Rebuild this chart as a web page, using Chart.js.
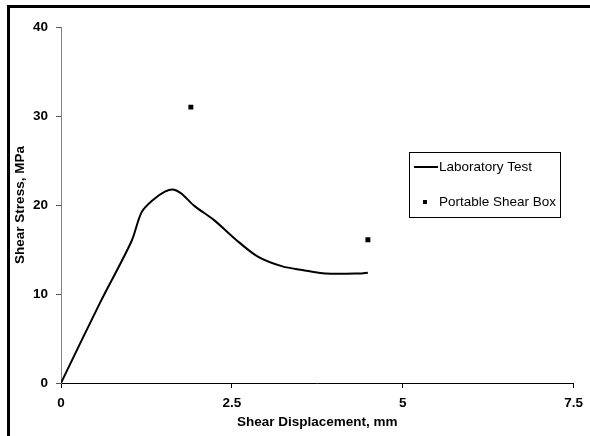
<!DOCTYPE html>
<html>
<head>
<meta charset="utf-8">
<script src="https://cdn.jsdelivr.net/npm/chart.js@4/dist/chart.umd.min.js"></script>
<style>
    body { margin: 0; background: #fff; }
    #wrap { position: relative; width: 590px; height: 436px; }
    #frame {
        position: absolute; left: 7px; top: 5px; right: 0; bottom: 0;
        border-left: 3px solid #000; border-top: 3px solid #000;
        pointer-events: none;
    }
</style>
</head>
<body>
<div id="wrap">
    <canvas id="chart" width="590" height="436"></canvas>
    <div id="frame"></div>
</div>
<script>
// Laboratory test curve (shear displacement mm, shear stress MPa)
const labDisp   = [0, 0.57, 1.03, 1.18, 1.35, 1.52, 1.64, 1.76, 1.95, 2.24, 2.56, 2.88, 3.24, 3.53, 3.87, 4.36, 4.49];
const labStress = [0, 9.0, 15.9, 19.2, 20.6, 21.5, 21.75, 21.3, 19.9, 18.3, 16.1, 14.2, 13.1, 12.7, 12.3, 12.3, 12.4];

// Portable shear box readings
const boxDisp   = [1.90, 4.49];
const boxStress = [31.0, 16.1];

const xTicks = [0, 2.5, 5, 7.5];
const yTicks = [0, 10, 20, 30, 40];

const FONT = '"Liberation Sans", Arial, sans-serif';

const toPoints = (xs, ys) => xs.map((x, i) => ({ x: x, y: ys[i] }));

// Boxed legend inside the plot, like the original spreadsheet chart
const boxLegend = {
    id: 'boxLegend',
    afterDraw(chart) {
        const ctx = chart.ctx;
        const sets = chart.data.datasets;
        const left = 409.5, top = 152.5, w = 151, h = 65;
        ctx.save();
        ctx.strokeStyle = '#000';
        ctx.lineWidth = 1;
        ctx.strokeRect(left, top, w, h);

        ctx.font = '13.5px ' + FONT;
        ctx.fillStyle = '#000';
        ctx.textBaseline = 'middle';

        // line sample
        ctx.lineWidth = 2;
        ctx.beginPath();
        ctx.moveTo(414, 167);
        ctx.lineTo(438, 167);
        ctx.stroke();
        ctx.fillText(sets[0].label, 439, 167);

        // square sample
        ctx.fillRect(423, 200, 4, 4);
        ctx.fillText(sets[1].label, 439, 202);
        ctx.restore();
    }
};

new Chart(document.getElementById('chart').getContext('2d'), {
    type: 'scatter',
    data: {
        datasets: [{
            label: 'Laboratory Test',
            data: toPoints(labDisp, labStress),
            showLine: true,
            borderColor: '#000',
            borderWidth: 2,
            pointRadius: 0,
            tension: 0.3,
            fill: false
        }, {
            label: 'Portable Shear Box',
            data: toPoints(boxDisp, boxStress),
            showLine: false,
            pointStyle: 'rect',
            pointRadius: 3.5,
            backgroundColor: '#000',
            borderColor: '#000',
            borderWidth: 0
        }]
    },
    options: {
        responsive: false,
        animation: false,
        devicePixelRatio: 1,
        layout: { padding: { left: 0, top: 27, right: 15, bottom: 0 } },
        plugins: {
            legend: { display: false },
            tooltip: { enabled: false }
        },
        scales: {
            x: {
                type: 'linear',
                min: 0,
                max: 7.5,
                afterBuildTicks: (scale) => { scale.ticks = xTicks.map(v => ({ value: v })); },
                afterFit: (scale) => { scale.height = 53; },
                border: { color: '#000', width: 1 },
                grid: { drawOnChartArea: false, drawTicks: true, tickLength: 5, color: '#000' },
                ticks: {
                    color: '#000',
                    padding: 7,
                    maxRotation: 0,
                    font: { family: FONT, size: 13.5, weight: 'bold' },
                    callback: (v) => String(v)
                },
                title: {
                    display: true,
                    text: 'Shear Displacement, mm',
                    color: '#000',
                    padding: { top: 0, bottom: 6 },
                    font: { family: FONT, size: 13.5, weight: 'bold' }
                }
            },
            y: {
                type: 'linear',
                min: 0,
                max: 40,
                afterBuildTicks: (scale) => { scale.ticks = yTicks.map(v => ({ value: v })); },
                afterFit: (scale) => { scale.width = 61; },
                border: { color: '#808080', width: 1 },
                grid: { drawOnChartArea: false, drawTicks: true, tickLength: 5, color: '#555' },
                ticks: {
                    color: '#000',
                    padding: 8,
                    font: { family: FONT, size: 13.5, weight: 'bold' }
                },
                title: {
                    display: true,
                    text: 'Shear Stress, MPa',
                    color: '#000',
                    padding: { top: 12, bottom: 0 },
                    font: { family: FONT, size: 13.5, weight: 'bold' }
                }
            }
        }
    },
    plugins: [boxLegend]
});
</script>
</body>
</html>
